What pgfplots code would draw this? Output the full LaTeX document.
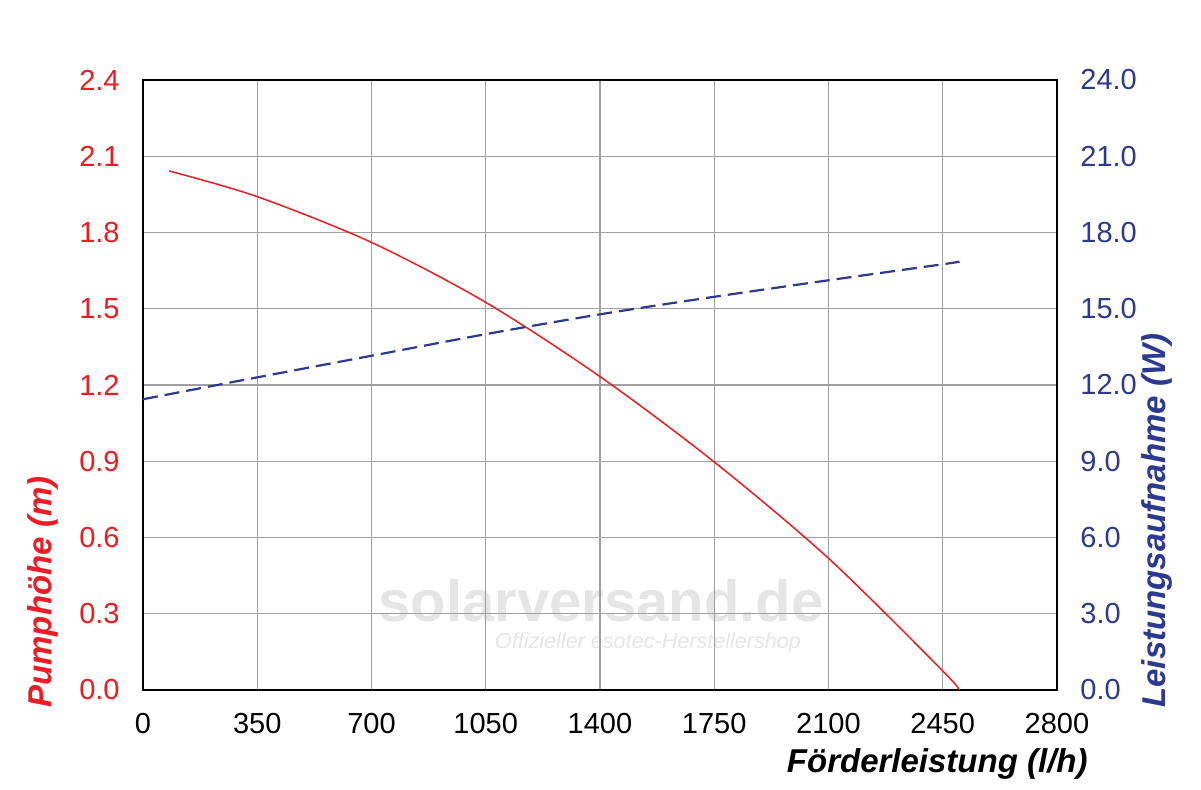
\documentclass[border=0pt]{standalone}
\usepackage{fontspec}
\setmainfont{Liberation Sans}
\usepackage{pgfplots}
\pgfplotsset{compat=1.18}

\definecolor{pumpred}{HTML}{ED1C24}
\definecolor{powblue}{HTML}{2B3990}
\definecolor{gridgray}{HTML}{A0A0A0}
\definecolor{wmgray}{HTML}{E5E5E5}

\tikzset{labelfont/.style={inner sep=0pt, font=\fontsize{16.5}{20}\selectfont\bfseries\itshape}}

\pgfplotsset{
  common/.style={
    scale only axis,
    width=457pt, height=305pt,
    at={(0pt,0pt)}, anchor=south west,
    xmin=0, xmax=2800,
    major tick length=0pt,
    tick label style={font=\fontsize{14.5}{17}\selectfont, inner sep=0pt},
    /pgf/number format/assume math mode=true,
    /pgf/number format/1000 sep={},
    axis line style={black, line width=1pt},
  },
}

\begin{document}
\begin{tikzpicture}
\path[use as bounding box] (-71.5pt,-50pt) rectangle (529pt,345pt);

% watermark
\node[anchor=base, inner sep=0pt, text=wmgray, font=\fontsize{29}{32}\selectfont\bfseries]
  at (229pt,34pt) {solarversand.de};
\node[anchor=base, inner sep=0pt, text=wmgray, font=\fontsize{10.8}{13}\selectfont\itshape]
  at (252.5pt,20.5pt) {Offizieller esotec-Herstellershop};

% Pumphoehe, left axis
\begin{axis}[common,
  ymin=0, ymax=2.4,
  ytick={0,0.3,0.6,0.9,1.2,1.5,1.8,2.1,2.4},
  xtick={0,350,700,1050,1400,1750,2100,2450,2800},
  xticklabel style={yshift=-11.5pt},
  yticklabel style={text=pumpred, xshift=-11.5pt,
    /pgf/number format/.cd, fixed, fixed zerofill, precision=1},
  grid=major,
  grid style={gridgray, line width=0.65pt},
  xlabel={Förderleistung (l/h)},
  xlabel style={labelfont, at={([xshift=15.5pt,yshift=-41.5pt]rel axis cs:1,0)}, anchor=base east},
  ylabel={Pumphöhe (m)},
  ylabel style={labelfont, text=pumpred, at={([xshift=-45.5pt,yshift=-9pt]rel axis cs:0,0)}, anchor=base west},
]
\addplot[pumpred, line width=0.75pt, smooth] coordinates {
  (80,2.042) (350,1.941) (700,1.761) (1050,1.525) (1400,1.233)
  (1750,0.897) (2100,0.518) (2450,0.075) (2500,0)
};
\end{axis}

% Leistungsaufnahme, right axis
\begin{axis}[common,
  axis x line=none,
  axis y line*=right,
  ymin=0, ymax=24,
  ytick={0,3,6,9,12,15,18,21,24},
  yticklabel style={text=powblue, xshift=11.5pt,
    /pgf/number format/.cd, fixed, fixed zerofill, precision=1},
  ylabel={Leistungsaufnahme (W)},
  ylabel style={labelfont, text=powblue, at={([xshift=54pt,yshift=-9pt]rel axis cs:1,0)}, anchor=base west},
]
\addplot[powblue, line width=1.1pt, dash pattern=on 7.5pt off 3.5pt, smooth] coordinates {
  (0,11.44) (350,12.30) (700,13.15) (1050,14.0) (1400,14.78) (1750,15.47)
  (2100,16.12) (2450,16.75) (2500,16.85)
};
\end{axis}
\end{tikzpicture}
\end{document}
